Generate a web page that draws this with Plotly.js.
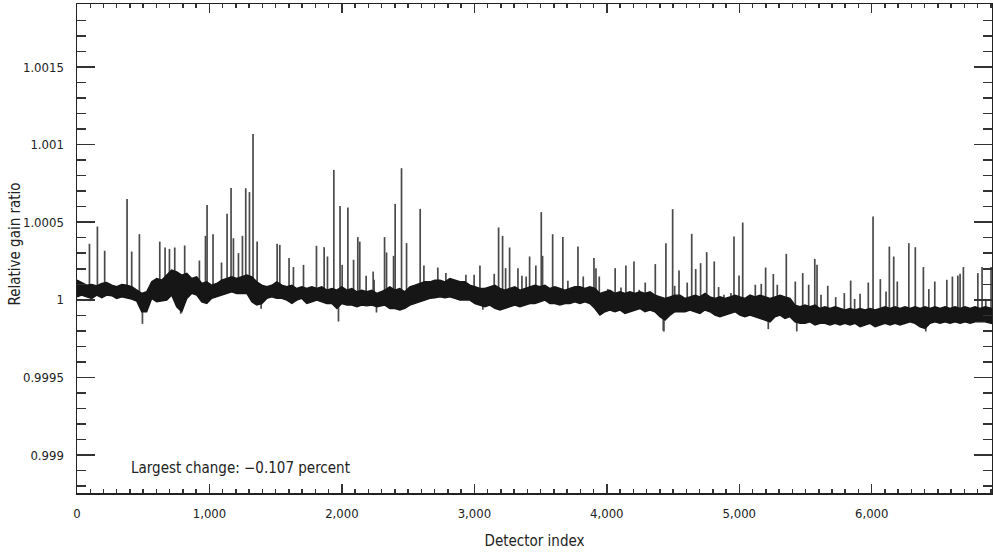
<!DOCTYPE html>
<html><head><meta charset="utf-8">
<script src="https://cdn.plot.ly/plotly-3.0.1.min.js"></script>
<style>html,body{margin:0;padding:0;background:#fff}#chart{width:993px;height:554px}</style>
</head><body><div id="chart"></div>
<script>
// Baseline noise band (detector index, upper and lower envelope)
const bandIdx = [0,35,73,111,149,187,224,262,300,338,375,413,451,489,526,564,602,640,678,715,753,791,829,866,904,942,980,1017,1055,1093,1131,1168,1206,1244,1282,1320,1357,1395,1433,1471,1508,1546,1584,1622,1659,1697,1735,1773,1811,1848,1886,1924,1962,1999,2037,2075,2113,2150,2188,2226,2264,
  2324,2362,2400,2437,2475,2513,2551,2588,2626,2664,2702,2740,2777,2815,2853,2891,2928,2966,3004,3042,3079,3117,3155,3193,3230,3268,3306,3344,3381,3419,3457,3495,3533,3570,3608,3646,3684,3721,3759,3797,3835,3872,3910,3948,3986,4023,4061,4099,4137,4174,4212,4250,4288,4326,4363,4401,4439,4477,4514,4552,
  4590,4628,4666,4703,4741,4779,4817,4854,4892,4930,4968,5005,5043,5081,5119,5156,5194,5232,5270,5308,5345,5383,5421,5459,5496,5534,5572,5610,5647,5685,5723,5761,5798,5836,5874,5912,5950,5987,6025,6063,6101,6138,6176,6214,6252,6289,6327,6365,6403,6440,6478,6516,6554,6591,6629,6667,6705,6743,6780,6818,6856,6906];
const bandTop = [1.000127,1.000112,1.000094,1.000099,1.000090,1.000105,1.000112,1.000094,1.000084,1.000099,1.000094,1.000084,1.000062,1.000041,1.000052,1.000116,1.000137,1.000127,1.000159,1.000191,1.000180,1.000159,1.000170,1.000137,1.000148,1.000105,1.000116,1.000094,1.000105,1.000127,1.000137,1.000148,1.000137,1.000148,1.000159,1.000148,1.000116,1.000094,1.000084,1.000094,1.000116,1.000094,1.000084,1.000094,1.000073,1.000084,1.000073,1.000084,1.000073,1.000084,1.000062,1.000073,1.000062,1.000084,1.000062,1.000073,1.000052,1.000062,1.000052,1.000062,1.000041,
  1.000062,1.000084,1.000062,1.000073,1.000052,1.000084,1.000094,1.000105,1.000116,1.000116,1.000127,1.000127,1.000116,1.000137,1.000127,1.000116,1.000116,1.000094,1.000084,1.000073,1.000073,1.000084,1.000094,1.000073,1.000062,1.000073,1.000084,1.000062,1.000073,1.000084,1.000094,1.000084,1.000094,1.000073,1.000084,1.000073,1.000062,1.000073,1.000084,1.000084,1.000073,1.000084,1.000073,1.000041,1.000052,1.000062,1.000041,1.000052,1.000041,1.000052,1.000041,1.000052,1.000041,1.000052,1.000030,1.000019,1.000009,1.000019,1.000030,1.000030,
  1.000009,1.000019,1.000030,1.000019,1.000041,1.000019,1.000009,1.000019,1.000009,1.000019,1.000030,1.000019,1.000009,1.000030,1.000019,1.000030,1.000019,1.000009,1.000019,1.000030,1.000019,1.000009,0.999966,0.999955,0.999966,0.999955,0.999966,0.999944,0.999955,0.999944,0.999955,0.999944,0.999934,0.999944,0.999934,0.999944,0.999934,0.999944,0.999934,0.999944,0.999955,0.999944,0.999955,0.999944,0.999955,0.999944,0.999955,0.999944,0.999955,0.999944,0.999955,0.999944,0.999955,0.999944,0.999955,0.999944,0.999955,0.999944,0.999955,0.999944,0.999955,0.999944];
const bandBot = [1.000019,1.000030,1.000019,1.000009,1.000030,1.000013,1.000030,1.000026,1.000009,1.000019,1.000013,1.000004,0.999991,0.999923,0.999923,1.000009,0.999987,0.999991,0.999998,1.000030,0.999955,0.999923,1.000009,1.000041,1.000030,0.999987,0.999976,1.000009,1.000019,1.000030,1.000041,1.000052,1.000041,1.000041,1.000041,0.999987,0.999966,0.999976,1.000009,1.000019,1.000009,1.000009,0.999998,0.999976,0.999998,1.000009,0.999976,0.999987,0.999998,0.999987,0.999976,0.999976,0.999944,0.999976,0.999966,0.999966,0.999955,0.999966,0.999961,0.999966,0.999955,
  0.999966,0.999944,0.999944,0.999934,0.999944,0.999966,0.999976,0.999987,0.999998,1.000009,1.000013,1.000019,1.000013,1.000019,1.000009,0.999998,0.999998,0.999998,0.999976,0.999966,0.999955,0.999966,0.999944,0.999934,0.999944,0.999955,0.999966,0.999955,0.999966,0.999976,0.999976,0.999987,0.999998,0.999976,0.999976,0.999966,0.999976,0.999976,0.999987,0.999976,0.999987,0.999976,0.999944,0.999901,0.999923,0.999934,0.999923,0.999934,0.999912,0.999923,0.999934,0.999944,0.999923,0.999934,0.999923,0.999891,0.999869,0.999901,0.999923,0.999923,
  0.999923,0.999934,0.999923,0.999912,0.999934,0.999923,0.999901,0.999891,0.999901,0.999912,0.999923,0.999901,0.999891,0.999901,0.999891,0.999880,0.999869,0.999858,0.999891,0.999901,0.999880,0.999891,0.999858,0.999848,0.999848,0.999858,0.999837,0.999848,0.999848,0.999837,0.999848,0.999837,0.999848,0.999837,0.999848,0.999826,0.999837,0.999848,0.999826,0.999837,0.999848,0.999837,0.999848,0.999837,0.999848,0.999858,0.999848,0.999826,0.999815,0.999848,0.999858,0.999848,0.999858,0.999848,0.999858,0.999848,0.999858,0.999848,0.999858,0.999858,0.999858,0.999848];

// Upward spikes (detector index, peak value)
const spikeIdx = [94,154,209,378,413,471,625,665,698,738,813,924,970,982,1027,1091,1133,1163,1181,1219,1249,1274,1302,1329,1360,1511,1531,1601,1634,1710,1808,1866,1891,1939,1986,2002,2045,2088,2120,2135,2183,2236,2243,2322,2337,2390,2402,2450,2488,2591,2619,2724,2785,2936,2998,3042,3150,3183,3213,3236,3266,3329,3359,3391,3417,3464,3505,3515,3591,3668,3706,3782,3822,3903,3918,3943,4008,4063,4107,4144,4205,4245,4290,4366,4446,4497,4512,4545,4607,4641,4671,4708,4754,4811,4844,4884,4937,4960,4998,5026,5121,5166,5199,5257,5287,5355,5423,5479,5524,5570,5587,5617,5668,5728,5793,5841,5871,5912,5974,6010,6065,6108,6133,6166,6193,6280,6329,6390,6431,6476,6567,6609,6650,6667,6692,6801,6833,6861,6901];
const spikeVal = [1.000361,1.000472,1.000316,1.000650,1.000311,1.000423,1.000375,1.000337,1.000328,1.000337,1.000350,1.000253,1.000412,1.000610,1.000423,1.000240,1.000554,1.000721,1.000397,1.000301,1.000412,1.000719,1.000694,1.001069,1.000375,1.000361,1.000354,1.000269,1.000211,1.000225,1.000348,1.000339,1.000279,1.000837,1.000605,1.000225,1.000594,1.000258,1.000404,1.000375,1.000155,1.000182,1.000129,1.000404,1.000305,1.000283,1.000618,1.000848,1.000365,1.000586,1.000221,1.000208,1.000172,1.000161,1.000161,1.000221,1.000167,1.000466,1.000412,1.000204,1.000337,1.000204,1.000155,1.000150,1.000279,1.000221,1.000565,1.000283,1.000423,1.000404,1.000122,1.000343,1.000150,1.000269,1.000204,1.000150,1.000069,1.000204,1.000079,1.000221,1.000247,1.000064,1.000111,1.000230,1.000365,1.000584,1.000090,1.000189,1.000111,1.000425,1.000198,1.000236,1.000307,1.000247,1.000082,1.000032,1.000043,1.000408,1.000156,1.000498,1.000097,1.000103,1.000208,1.000166,1.000097,1.000296,1.000118,1.000172,1.000097,1.000264,1.000225,1.000032,1.000090,1.000017,1.000043,1.000124,1.000005,1.000039,1.000111,1.000536,1.000133,1.000053,1.000343,1.000279,1.000118,1.000365,1.000339,1.000211,1.000069,1.000118,1.000129,1.000150,1.000156,1.000167,1.000211,1.000172,1.000211,1.000006,1.000211];

// Downward dips (detector index, minimum value)
const dipIdx = [494,783,1390,1974,2261,3064,4426,4431,5219,5434,5887,6408];
const dipVal = [0.999845,0.999910,0.999942,0.999860,0.999918,0.999936,0.999800,0.999796,0.999811,0.999796,0.999860,0.999796];

const yTickVals = [0.999, 0.9995, 1, 1.0005, 1.001, 1.0015];
const yTickText = ['0.999', '0.9995', '1', '1.0005', '1.001', '1.0015'];
const xTickVals = [0, 1000, 2000, 3000, 4000, 5000, 6000];
const xTickText = ['0', '1,000', '2,000', '3,000', '4,000', '5,000', '6,000'];

function bandMid(i) {
  let k = 0;
  for (let j = 0; j < bandIdx.length; j++) {
    if (Math.abs(bandIdx[j] - i) < Math.abs(bandIdx[k] - i)) k = j;
  }
  return (bandTop[k] + bandBot[k]) / 2;
}

const sx = [], sy = [];
spikeIdx.forEach((i, n) => { sx.push(i, i, null); sy.push(bandMid(i), spikeVal[n], null); });
dipIdx.forEach((i, n) => { sx.push(i, i, null); sy.push(bandMid(i), dipVal[n], null); });

const polyX = bandIdx.concat(bandIdx.slice().reverse());
const polyY = bandTop.concat(bandBot.slice().reverse());

const FONT = '"Liberation Sans Narrow", "DejaVu Sans Condensed", "Arial Narrow", sans-serif';

const traces = [
  {x: sx, y: sy, mode: 'lines', type: 'scatter', line: {color: '#4a4a4a', width: 1.7}, hoverinfo: 'skip', showlegend: false},
  {x: polyX, y: polyY, mode: 'lines', type: 'scatter', fill: 'toself', fillcolor: '#161616', line: {color: '#161616', width: 1.4}, hoverinfo: 'skip', showlegend: false}
];

const layout = {
  width: 993, height: 554,
  margin: {l: 77, r: 1, t: 4, b: 61},
  paper_bgcolor: '#fff', plot_bgcolor: '#fff',
  font: {family: FONT, size: 13, color: '#222'},
  showlegend: false,
  xaxis: {
    range: [0, 6908], showgrid: false, zeroline: false,
    showline: true, linecolor: '#222', linewidth: 1.5, mirror: 'ticks',
    ticks: 'inside', ticklen: 9, tickwidth: 1.5, tickcolor: '#333',
    tickmode: 'array', tickvals: xTickVals, ticktext: xTickText,
    ticklabelstandoff: 8,
    minor: {tickmode: 'linear', tick0: 0, dtick: 100, ticks: 'inside', ticklen: 4, tickwidth: 1.5, tickcolor: '#333'},
    title: {text: 'Detector index', font: {family: FONT, size: 15, color: '#222'}, standoff: 15}
  },
  yaxis: {
    range: [0.998755, 1.001906], showgrid: false, zeroline: false,
    showline: true, linecolor: '#222', linewidth: 1.5, mirror: 'ticks',
    ticks: 'inside', ticklen: 18, tickwidth: 1.5, tickcolor: '#333',
    tickmode: 'array', tickvals: yTickVals, ticktext: yTickText,
    ticklabelstandoff: 9,
    minor: {tickmode: 'linear', tick0: 0.999, dtick: 0.0001, ticks: 'inside', ticklen: 9, tickwidth: 1.5, tickcolor: '#333'}
  },
  annotations: [{
    xref: 'paper', yref: 'paper', x: 0.0568, y: 0.051, xanchor: 'left', yanchor: 'middle',
    text: 'Largest change: \u22120.107 percent', showarrow: false,
    font: {family: FONT, size: 15, color: '#222'}
  }, {
    xref: 'paper', yref: 'paper', x: -0.0678, y: 0.51, xanchor: 'center', yanchor: 'middle',
    text: 'Relative gain ratio', textangle: -90, showarrow: false,
    font: {family: FONT, size: 15, color: '#222'}
  }]
};

Plotly.newPlot('chart', traces, layout, {displayModeBar: false, staticPlot: true});
</script>
</body></html>
